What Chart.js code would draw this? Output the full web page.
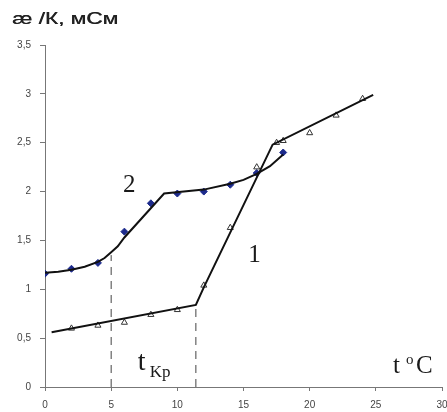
<!DOCTYPE html>
<html>
<head>
<meta charset="utf-8">
<script src="https://cdn.jsdelivr.net/npm/chart.js@4"></script>
<style>
  html, body { margin: 0; padding: 0; background: #fff; }
  #wrap { width: 447px; height: 412px; position: relative; }
</style>
</head>
<body>
<div id="wrap"><canvas id="c"></canvas></div>
<script>
// Кривая 1 — точки (треугольники) и линия аппроксимации
const s1PointsX = [2, 4, 6, 8, 10, 12, 14, 16, 17.5, 18, 20, 22, 24];
const s1PointsY = [0.6, 0.63, 0.66, 0.74, 0.79, 1.04, 1.63, 2.25, 2.5, 2.52, 2.6, 2.78, 2.95];
const s1LineX = [0.5, 11.4, 12, 17.2, 24.8];
const s1LineY = [0.56, 0.84, 1.02, 2.48, 2.99];

// Кривая 2 — точки (синие) и линия аппроксимации
const s2PointsX = [0, 2, 4, 6, 8, 10, 12, 14, 16, 18];
const s2PointsY = [1.16, 1.21, 1.27, 1.59, 1.88, 1.98, 2.0, 2.07, 2.19, 2.4];
const s2LineX = [0, 1, 2, 3, 4, 4.5, 5, 5.5, 6, 9, 12, 14, 15, 16, 17, 18];
const s2LineY = [1.17, 1.18, 1.2, 1.23, 1.28, 1.32, 1.38, 1.44, 1.53, 1.98, 2.02, 2.08, 2.12, 2.18, 2.26, 2.38];

// Вертикальные пунктиры t_кр
const critX = [5, 11.4];
const critY = [1.35, 0.84];

const xTicks = [0, 5, 10, 15, 20, 25, 30];
const yTicks = [0, 0.5, 1, 1.5, 2, 2.5, 3, 3.5];

const zip = (xs, ys) => xs.map((x, i) => ({ x, y: ys[i] }));

const SERIF = '"Liberation Serif", "Times New Roman", serif';

const annotations = {
  id: 'annotations',
  afterDraw(chart) {
    const { ctx, scales: { x, y } } = chart;
    ctx.save();
    ctx.fillStyle = '#1a1a1a';
    ctx.textBaseline = 'alphabetic';
    // подпись оси Y (растянута по ширине как в оригинале)
    ctx.font = '16px "Liberation Sans", Arial, sans-serif';
    const title = 'æ /К, мСм';
    const w = ctx.measureText(title).width;
    ctx.save();
    ctx.translate(12, 24);
    ctx.scale(106 / w, 1);
    ctx.fillStyle = '#222';
    ctx.fillText(title, 0, 0);
    ctx.fillText(title, 0.4, 0);
    ctx.restore();
    // номера кривых
    ctx.font = '25px ' + SERIF;
    ctx.fillText('2', x.getPixelForValue(5.9), y.getPixelForValue(2.0));
    ctx.fillText('1', x.getPixelForValue(15.35), y.getPixelForValue(1.28));
    // t_Kp
    ctx.font = '28px ' + SERIF;
    const tx = x.getPixelForValue(7.0), ty = y.getPixelForValue(0.17);
    ctx.fillText('t', tx, ty);
    ctx.font = '17px ' + SERIF;
    ctx.fillText('Kp', tx + 12, ty + 7);
    // t °C
    ctx.font = '25px ' + SERIF;
    const cx = x.getPixelForValue(26.3), cy = y.getPixelForValue(0.14);
    ctx.fillText('t', cx, cy);
    ctx.font = '15px ' + SERIF;
    ctx.fillText('o', cx + 13, cy - 9);
    ctx.font = '25px ' + SERIF;
    ctx.fillText('C', cx + 23, cy);
    ctx.restore();
  },
};

new Chart(document.getElementById('c'), {
  type: 'scatter',
  data: {
    datasets: [
      {
        label: 'crit1',
        data: [{ x: critX[0], y: 0 }, { x: critX[0], y: critY[0] }],
        showLine: true, borderColor: '#444', borderWidth: 1, borderDash: [8, 6], pointRadius: 0,
      },
      {
        label: 'crit2',
        data: [{ x: critX[1], y: 0 }, { x: critX[1], y: critY[1] }],
        showLine: true, borderColor: '#444', borderWidth: 1, borderDash: [8, 6], pointRadius: 0,
      },
      {
        label: 'line1',
        data: zip(s1LineX, s1LineY),
        showLine: true, borderColor: '#111', borderWidth: 2, pointRadius: 0, tension: 0,
      },
      {
        label: 'line2',
        data: zip(s2LineX, s2LineY),
        showLine: true, borderColor: '#111', borderWidth: 2, pointRadius: 0, tension: 0,
      },
      {
        label: 'pts1',
        data: zip(s1PointsX, s1PointsY),
        pointStyle: 'triangle', pointRadius: 3.5, backgroundColor: '#fff', borderColor: '#333', borderWidth: 1,
      },
      {
        label: 'pts2',
        data: zip(s2PointsX, s2PointsY),
        pointStyle: 'rectRot', pointRadius: 3.5, backgroundColor: '#1c2a8c', borderColor: '#1c2a8c', borderWidth: 1,
      },
    ],
  },
  options: {
    responsive: true,
    maintainAspectRatio: false,
    animation: false,
    layout: { padding: { top: 45, right: 5, left: 0, bottom: 0 } },
    plugins: { legend: { display: false }, tooltip: { enabled: false } },
    scales: {
      x: {
        type: 'linear', min: 0, max: 30,
        afterBuildTicks: (s) => { s.ticks = xTicks.map((v) => ({ value: v })); },
        afterFit: (s) => { s.height = 25; s.paddingLeft = 0; s.paddingRight = 0; },
        border: { color: '#777', width: 1 },
        grid: { display: true, drawOnChartArea: false, tickLength: 4, color: '#777' },
        ticks: { color: '#444', font: { size: 10, family: '"Liberation Sans", Arial, sans-serif' }, padding: 8, maxRotation: 0 },
      },
      y: {
        type: 'linear', min: 0, max: 3.5,
        afterBuildTicks: (s) => { s.ticks = yTicks.map((v) => ({ value: v })); },
        afterFit: (s) => { s.width = 45; s.paddingTop = 0; s.paddingBottom = 0; },
        border: { color: '#777', width: 1 },
        grid: { display: true, drawOnChartArea: false, tickLength: 5, color: '#777' },
        ticks: {
          color: '#444', font: { size: 10, family: '"Liberation Sans", Arial, sans-serif' }, padding: 9,
          callback: (v) => String(v).replace('.', ','),
        },
      },
    },
  },
  plugins: [annotations],
});
</script>
</body>
</html>
